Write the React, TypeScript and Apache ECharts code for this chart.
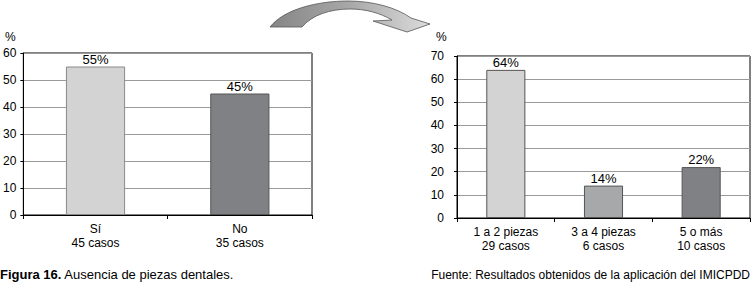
import React, { useEffect, useRef } from "react";
import * as echarts from "echarts";

const leftCategories = ["Sí\n45 casos", "No\n35 casos"];
const leftValues = [55, 45];
const leftColors = ["#d3d3d3", "#808184"];

const rightCategories = ["1 a 2 piezas\n29 casos", "3 a 4 piezas\n6 casos", "5 o más\n10 casos"];
const rightValues = [64, 14, 22];
const rightColors = ["#d3d3d3", "#a7a8aa", "#808184"];

const captionLeft = "Ausencia de piezas dentales.";
const captionFigure = "Figura 16.";
const captionRight = "Fuente: Resultados obtenidos de la aplicación del IMICPDD";

const FONT = "Liberation Sans, Arial, sans-serif";

const arrowPath =
  "M 270 27 C 284 9, 318 1, 348 1 C 374 1, 397 8, 411 18 L 430 24 L 407 32 L 373 21 L 392 20 C 380 13, 366 9, 350 9 C 330 9, 312 15, 302 27 Z";

echarts.graphic.registerShape("arrowShape", echarts.graphic.extendPath(arrowPath, {}) as any);

function makeX(gridIndex: number, data: string[]) {
  return {
    type: "category",
    gridIndex,
    data,
    axisLine: { show: true, lineStyle: { color: "#000", width: 1 } },
    axisTick: { show: true, length: 4, lineStyle: { color: "#000" } },
    axisLabel: { color: "#000", fontSize: 12, lineHeight: 14, margin: 7, fontFamily: FONT },
    splitLine: { show: false },
  };
}

function makeY(gridIndex: number, max: number, margin: number) {
  return {
    type: "value",
    gridIndex,
    min: 0,
    max,
    interval: 10,
    axisLine: { show: true, lineStyle: { color: "#000", width: 1 } },
    axisTick: { show: true, length: 3, lineStyle: { color: "#000" } },
    axisLabel: { color: "#000", fontSize: 12, margin, fontFamily: FONT },
    splitLine: { show: true, lineStyle: { color: "#9a9a9a", width: 1 } },
  };
}

export default function App() {
  const ref = useRef<HTMLDivElement>(null);
  useEffect(() => {
    if (!ref.current) return;
    const chart = echarts.init(ref.current, undefined, { renderer: "svg" });
    const labelStyle = {
      show: true,
      position: "top",
      distance: 1,
      color: "#000",
      fontSize: 13,
      fontFamily: FONT,
      formatter: "{c}%",
    };
    chart.setOption({
      animation: false,
      backgroundColor: "#fff",
      textStyle: { fontFamily: FONT },
      grid: [
        { left: 20, right: 440, top: 53, bottom: 72, show: true, borderColor: "#000", borderWidth: 1 },
        { left: 457, right: 2, top: 56, bottom: 69, show: true, borderColor: "#000", borderWidth: 1 },
      ],
      xAxis: [makeX(0, leftCategories), makeX(1, rightCategories)],
      yAxis: [makeY(0, 60, 7), makeY(1, 70, 13)],
      series: [
        {
          type: "bar",
          xAxisIndex: 0,
          yAxisIndex: 0,
          barWidth: "41%",
          data: leftValues.map((v, i) => ({
            value: v,
            itemStyle: { color: leftColors[i], borderColor: i === 0 ? "#8a8a8a" : "#555", borderWidth: 1 },
          })),
          label: labelStyle,
        },
        {
          type: "bar",
          xAxisIndex: 1,
          yAxisIndex: 1,
          barWidth: "40%",
          data: rightValues.map((v, i) => ({
            value: v,
            itemStyle: { color: rightColors[i], borderColor: "#555", borderWidth: 1 },
          })),
          label: labelStyle,
        },
      ],
      graphic: [
        {
          type: "arrowShape",
          x: 0,
          y: 0,
          style: {
            fill: new echarts.graphic.LinearGradient(0, 0, 1, 0, [
              { offset: 0, color: "#858585" },
              { offset: 0.5, color: "#a8a8a8" },
              { offset: 1, color: "#dcdcdc" },
            ]),
            stroke: "#555",
            lineWidth: 0.8,
          },
        },
        {
          type: "text",
          left: 5,
          top: 31,
          style: { text: "%", fill: "#000", font: `12px ${FONT}` },
        },
        {
          type: "text",
          left: 436,
          top: 31,
          style: { text: "%", fill: "#000", font: `12px ${FONT}` },
        },
        {
          type: "text",
          left: 0,
          top: 268,
          style: {
            text: `{b|${captionFigure}} ${captionLeft}`,
            fill: "#000",
            font: `13px ${FONT}`,
            rich: { b: { fontWeight: "bold", fontSize: 13, fontFamily: FONT } },
          },
        },
        {
          type: "text",
          right: 2,
          top: 269,
          style: { text: captionRight, fill: "#000", font: `12px ${FONT}` },
        },
      ],
    });
    return () => chart.dispose();
  }, []);
  return (
    <div
      ref={ref}
      style={{ position: "absolute", left: 0, top: 0, width: 752, height: 287 }}
    />
  );
}
